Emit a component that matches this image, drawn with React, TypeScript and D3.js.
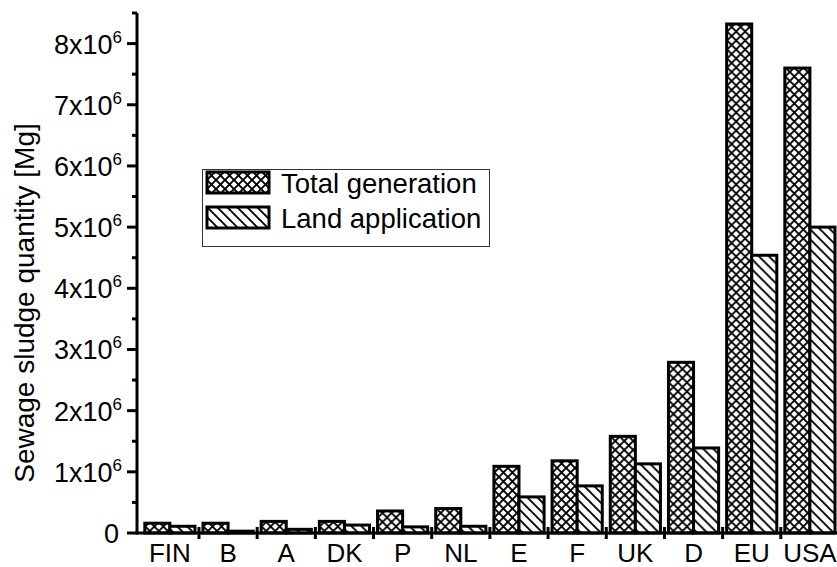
import { useEffect, useRef } from 'react';
import * as d3 from 'd3';

// Countries on the x axis
const categories = ['FIN', 'B', 'A', 'DK', 'P', 'NL', 'E', 'F', 'UK', 'D', 'EU', 'USA'];

// Sewage sludge quantities in Mg
const totalGeneration = [0.16e6, 0.16e6, 0.19e6, 0.19e6, 0.36e6, 0.4e6, 1.09e6, 1.18e6, 1.58e6, 2.79e6, 8.32e6, 7.6e6];
const landApplication = [0.11e6, 0.03e6, 0.06e6, 0.13e6, 0.1e6, 0.11e6, 0.59e6, 0.77e6, 1.13e6, 1.39e6, 4.54e6, 5.0e6];

const seriesNames = ['Total generation', 'Land application'];
const yTickValues = [0, 1e6, 2e6, 3e6, 4e6, 5e6, 6e6, 7e6, 8e6];
const yTickExponent = '6';
const yLabel = 'Sewage sludge quantity [Mg]';

const App = () => {
  const svgRef = useRef<SVGSVGElement | null>(null);

  useEffect(() => {
    const width = 837;
    const height = 567;
    const font = '"Liberation Sans", Arial, Helvetica, sans-serif';

    const svg = d3.select(svgRef.current);
    svg.selectAll('*').remove();
    svg.attr('width', width).attr('height', height);

    // Hatch patterns: cross-hatch for total, backslash for land application
    const defs = svg.append('defs');
    const cross = defs.append('pattern')
      .attr('id', 'crossHatch')
      .attr('patternUnits', 'userSpaceOnUse')
      .attr('width', 9)
      .attr('height', 9);
    cross.append('rect').attr('width', 9).attr('height', 9).attr('fill', 'white');
    cross.append('path')
      .attr('d', 'M-1,-1 L10,10 M-1,10 L10,-1')
      .attr('stroke', 'black')
      .attr('stroke-width', 1.9);

    const diag = defs.append('pattern')
      .attr('id', 'diagHatch')
      .attr('patternUnits', 'userSpaceOnUse')
      .attr('width', 10)
      .attr('height', 10);
    diag.append('rect').attr('width', 10).attr('height', 10).attr('fill', 'white');
    diag.append('path')
      .attr('d', 'M-1,-1 L11,11 M-6,4 L6,16 M4,-6 L16,6')
      .attr('stroke', 'black')
      .attr('stroke-width', 1.9);

    const fills = ['url(#crossHatch)', 'url(#diagHatch)'];

    // Scales
    const xScale = d3.scaleBand()
      .domain(categories)
      .range([140.8, 839]);

    const xInner = d3.scaleBand()
      .domain(seriesNames)
      .range([0, xScale.bandwidth()])
      .paddingOuter(0.16);

    const yScale = d3.scaleLinear()
      .domain([0, 8.5e6])
      .range([533, 13]);

    const rows = categories.map((c, i) => ({
      category: c,
      values: [totalGeneration[i], landApplication[i]]
    }));

    // Bars
    const groups = svg.append('g')
      .selectAll('g')
      .data(rows)
      .join('g')
      .attr('transform', d => `translate(${xScale(d.category)},0)`);

    groups.selectAll('rect')
      .data(d => d.values.map((v, k) => ({ v, k })))
      .join('rect')
      .attr('x', d => xInner(seriesNames[d.k]))
      .attr('y', d => yScale(d.v))
      .attr('width', xInner.bandwidth())
      .attr('height', d => yScale(0) - yScale(d.v))
      .attr('fill', d => fills[d.k])
      .attr('stroke', 'black')
      .attr('stroke-width', 3);

    // Y axis
    const x0 = 137;
    const yAxis = svg.append('g');
    yAxis.append('line')
      .attr('x1', x0).attr('x2', x0)
      .attr('y1', yScale(8.5e6)).attr('y2', yScale(0) + 1.5)
      .attr('stroke', 'black').attr('stroke-width', 3);

    yAxis.selectAll('line.major')
      .data(yTickValues)
      .join('line')
      .attr('class', 'major')
      .attr('x1', x0 - 10).attr('x2', x0)
      .attr('y1', d => yScale(d)).attr('y2', d => yScale(d))
      .attr('stroke', 'black').attr('stroke-width', 3);

    yAxis.selectAll('line.minor')
      .data(yTickValues.map(d => d + 0.5e6))
      .join('line')
      .attr('class', 'minor')
      .attr('x1', x0 - 5).attr('x2', x0)
      .attr('y1', d => yScale(d)).attr('y2', d => yScale(d))
      .attr('stroke', 'black').attr('stroke-width', 3);

    const yLabels = yAxis.selectAll('text.tick')
      .data(yTickValues)
      .join('text')
      .attr('class', 'tick')
      .attr('x', d => (d === 0 ? 119 : 122))
      .attr('y', d => yScale(d) + 10)
      .attr('text-anchor', 'end')
      .attr('font-family', font)
      .attr('font-size', 27);

    yLabels.each(function (d) {
      const t = d3.select(this);
      if (d === 0) {
        t.text('0');
        return;
      }
      t.append('tspan').text(`${d / 1e6}x10`);
      t.append('tspan').attr('dy', -11).attr('font-size', 17).text(yTickExponent);
    });

    // X axis
    const xAxis = svg.append('g');
    xAxis.append('line')
      .attr('x1', x0 - 1.5).attr('x2', width)
      .attr('y1', yScale(0)).attr('y2', yScale(0))
      .attr('stroke', 'black').attr('stroke-width', 3);

    xAxis.selectAll('line.tick')
      .data(categories.slice(1))
      .join('line')
      .attr('class', 'tick')
      .attr('x1', d => xScale(d)).attr('x2', d => xScale(d))
      .attr('y1', yScale(0) - 6).attr('y2', yScale(0) + 6)
      .attr('stroke', 'black').attr('stroke-width', 3);

    xAxis.selectAll('text')
      .data(categories)
      .join('text')
      .attr('x', d => xScale(d) + xScale.bandwidth() / 2)
      .attr('y', 562)
      .attr('text-anchor', 'middle')
      .attr('font-family', font)
      .attr('font-size', 26)
      .text(d => d);

    // Axis title
    svg.append('text')
      .attr('transform', `translate(34, 303) rotate(-90)`)
      .attr('text-anchor', 'middle')
      .attr('font-family', font)
      .attr('font-size', 28)
      .text(yLabel);

    // Legend
    const legend = svg.append('g');
    legend.append('rect')
      .attr('x', 202.5).attr('y', 169.5)
      .attr('width', 287).attr('height', 77)
      .attr('fill', 'white')
      .attr('stroke', '#333').attr('stroke-width', 1);

    seriesNames.forEach((name, k) => {
      const top = 172 + k * 35;
      legend.append('rect')
        .attr('x', 207).attr('y', top)
        .attr('width', 62).attr('height', 21)
        .attr('fill', fills[k])
        .attr('stroke', 'black').attr('stroke-width', 3);
      legend.append('text')
        .attr('x', 281).attr('y', top + 21)
        .attr('font-family', font)
        .attr('font-size', 27.5)
        .text(name);
    });
  }, []);

  return (
    <svg ref={svgRef} style={{ position: 'absolute', left: 0, top: 0, background: 'white' }}></svg>
  );
};

export default App;
